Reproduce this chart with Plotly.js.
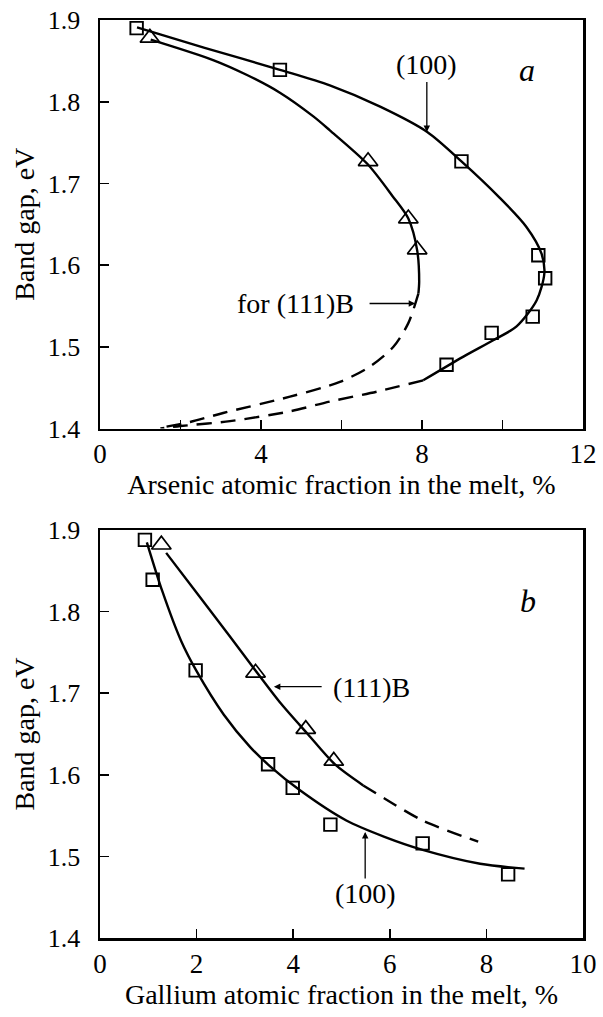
<!DOCTYPE html>
<html>
<head>
<meta charset="utf-8">
<script src="https://cdn.plot.ly/plotly-3.0.1.min.js"></script>
<style>
html,body{margin:0;padding:0;background:#fff;}
#chart{width:603px;height:1017px;}
</style>
</head>
<body>
<div id="chart"></div>
<script>
// ---------- Panel a: Arsenic ----------
var aSqX = [0.91, 4.47, 8.98, 10.89, 11.06, 10.75, 9.73, 8.61];
var aSqY = [1.890, 1.839, 1.727, 1.612, 1.584, 1.537, 1.517, 1.478];
var aTriX = [1.24, 6.66, 7.66, 7.88];
var aTriY = [1.878, 1.727, 1.657, 1.619];

var a100SolidX = [0.92, 2.6, 4.47, 5.71, 6.96, 8.13, 8.98, 9.92, 10.59, 10.97, 11.04, 10.85, 10.35, 9.77, 9.03, 8.03];
var a100SolidY = [1.891, 1.866, 1.839, 1.820, 1.794, 1.763, 1.727, 1.683, 1.647, 1.614, 1.590, 1.557, 1.525, 1.508, 1.488, 1.459];
var a100DashX = [8.03, 6.87, 5.71, 4.72, 3.23, 2.00, 1.50];
var a100DashY = [1.459, 1.445, 1.433, 1.421, 1.409, 1.403, 1.400];

var a111SolidX = [1.26, 2.81, 3.64, 4.47, 5.30, 5.71, 6.64, 7.26, 7.66, 7.88, 7.93, 7.91];
var a111SolidY = [1.876, 1.851, 1.833, 1.811, 1.782, 1.765, 1.724, 1.685, 1.657, 1.618, 1.580, 1.565];
var a111DashX = [7.91, 7.66, 7.29, 6.71, 5.96, 4.72, 3.06, 2.24, 1.50];
var a111DashY = [1.565, 1.529, 1.500, 1.476, 1.457, 1.439, 1.419, 1.408, 1.401];

// ---------- Panel b: Gallium ----------
var bSqX = [0.93, 1.09, 1.98, 3.48, 3.99, 4.77, 6.68, 8.45];
var bSqY = [1.888, 1.839, 1.728, 1.613, 1.584, 1.539, 1.516, 1.478];
var bTriX = [1.27, 3.22, 4.26, 4.84];
var bTriY = [1.882, 1.725, 1.656, 1.617];

var b100X = [0.97, 1.29, 1.68, 2.00, 2.56, 3.11, 3.51, 4.14, 5.10, 5.89, 6.68, 7.87, 8.79];
var b100Y = [1.885, 1.825, 1.764, 1.727, 1.674, 1.634, 1.611, 1.581, 1.544, 1.524, 1.508, 1.491, 1.485];
var b111SolidX = [1.37, 2.08, 2.71, 3.23, 3.75, 4.30, 4.86, 5.45];
var b111SolidY = [1.872, 1.817, 1.768, 1.727, 1.687, 1.650, 1.613, 1.587];
var b111DashX = [5.45, 5.89, 6.68, 7.83];
var b111DashY = [1.587, 1.571, 1.544, 1.518];

// ---------- Axes ----------
var yTicks = [1.4, 1.5, 1.6, 1.7, 1.8, 1.9];
var yTickText = ['1.4', '1.5', '1.6', '1.7', '1.8', '1.9'];
var xTicksA = [0, 2, 4, 6, 8, 10, 12];
var xTickTextA = ['0', '', '4', '', '8', '', '12'];
var xTicksB = [0, 2, 4, 6, 8, 10];
var xTickTextB = ['0', '2', '4', '6', '8', '10'];

var yTitle = 'Band gap, eV';
var xTitleA = 'Arsenic atomic fraction in the melt, %';
var xTitleB = 'Gallium atomic fraction in the melt, %';

var FONT = 'Liberation Serif';
var INK = '#000';

function solid(x, y, xa, ya) {
  return {x: x, y: y, xaxis: xa, yaxis: ya, mode: 'lines', type: 'scatter',
    line: {color: INK, width: 2.4, shape: 'spline', smoothing: 0.8}, hoverinfo: 'skip'};
}
function dashed(x, y, xa, ya) {
  return {x: x, y: y, xaxis: xa, yaxis: ya, mode: 'lines', type: 'scatter',
    line: {color: INK, width: 2.4, shape: 'spline', smoothing: 0.8, dash: '15px,9px'}, hoverinfo: 'skip'};
}
function squares(x, y, xa, ya) {
  return {x: x, y: y, xaxis: xa, yaxis: ya, mode: 'markers', type: 'scatter', cliponaxis: false,
    marker: {symbol: 'square-open', size: 12.5, color: INK, line: {width: 1.9, color: INK}}};
}
function triangles(x, y, xa, ya) {
  return {x: x, y: y, xaxis: xa, yaxis: ya, mode: 'markers', type: 'scatter', cliponaxis: false,
    marker: {symbol: 'triangle-up-open', size: 17, color: INK, line: {width: 1.7, color: INK}}};
}

var data = [
  solid(a100SolidX, a100SolidY, 'x', 'y'),
  dashed(a100DashX, a100DashY, 'x', 'y'),
  solid(a111SolidX, a111SolidY, 'x', 'y'),
  dashed(a111DashX, a111DashY, 'x', 'y'),
  squares(aSqX, aSqY, 'x', 'y'),
  triangles(aTriX, aTriY, 'x', 'y'),
  solid(b100X, b100Y, 'x2', 'y2'),
  solid(b111SolidX, b111SolidY, 'x2', 'y2'),
  dashed(b111DashX, b111DashY, 'x2', 'y2'),
  squares(bSqX, bSqY, 'x2', 'y2'),
  triangles(bTriX, bTriY, 'x2', 'y2')
];

function xAxis(range, vals, text, title, anchor) {
  return {
    domain: [0, 1], anchor: anchor, range: range, tickmode: 'array', tickvals: vals, ticktext: text,
    ticks: 'inside', ticklen: 9, tickwidth: 1.6, tickcolor: INK,
    showline: true, mirror: true, linecolor: INK, linewidth: 2.5,
    showgrid: false, zeroline: false, ticklabelstandoff: 0,
    tickfont: {family: FONT, size: 27, color: INK},
    title: {text: title, font: {family: FONT, size: 28, color: INK}, standoff: 0}
  };
}
function yAxis(domain, anchor) {
  return {
    domain: domain, anchor: anchor, range: [1.4, 1.9], tickmode: 'array', tickvals: yTicks, ticktext: yTickText,
    ticks: 'inside', ticklen: 9, tickwidth: 1.6, tickcolor: INK,
    showline: true, mirror: true, linecolor: INK, linewidth: 2.5,
    showgrid: false, zeroline: false, ticklabelstandoff: 12,
    tickfont: {family: FONT, size: 26, color: INK},
    title: {text: yTitle, font: {family: FONT, size: 28, color: INK}, standoff: 5}
  };
}

var annFont = {family: FONT, size: 28, color: INK};
var annotations = [
  // panel a
  {xref: 'x', yref: 'y', x: 8.12, y: 1.845, text: '(100)', showarrow: false, font: annFont},
  {xref: 'x', yref: 'y', axref: 'x', ayref: 'y', x: 8.12, y: 1.763, ax: 8.12, ay: 1.826, text: '',
    showarrow: true, arrowhead: 2, arrowsize: 1, arrowwidth: 1.3, arrowcolor: INK, standoff: 0},
  {xref: 'x', yref: 'y', x: 10.61, y: 1.839, text: '<i>a</i>', showarrow: false,
    font: {family: FONT, size: 32, color: INK}},
  {xref: 'x', yref: 'y', x: 6.36, y: 1.553, xanchor: 'right', text: 'for (111)B', showarrow: false, font: annFont},
  {xref: 'x', yref: 'y', axref: 'x', ayref: 'y', x: 7.83, y: 1.553, ax: 6.66, ay: 1.553, text: '',
    showarrow: true, arrowhead: 2, arrowsize: 1, arrowwidth: 1.3, arrowcolor: INK, standoff: 0},
  // panel b
  {xref: 'x2', yref: 'y2', x: 4.78, y: 1.707, xanchor: 'left', text: '(111)B', showarrow: false, font: annFont},
  {xref: 'x2', yref: 'y2', axref: 'x2', ayref: 'y2', x: 3.60, y: 1.708, ax: 4.62, ay: 1.708, text: '',
    showarrow: true, arrowhead: 2, arrowsize: 1, arrowwidth: 1.3, arrowcolor: INK, standoff: 0},
  {xref: 'x2', yref: 'y2', x: 5.49, y: 1.454, text: '(100)', showarrow: false, font: annFont},
  {xref: 'x2', yref: 'y2', axref: 'x2', ayref: 'y2', x: 5.49, y: 1.530, ax: 5.49, ay: 1.471, text: '',
    showarrow: true, arrowhead: 2, arrowsize: 1, arrowwidth: 1.3, arrowcolor: INK, standoff: 0},
  {xref: 'x2', yref: 'y2', x: 8.86, y: 1.813, text: '<i>b</i>', showarrow: false,
    font: {family: FONT, size: 32, color: INK}}
];

var layout = {
  width: 603, height: 1017,
  margin: {l: 100, r: 20, t: 20, b: 79, pad: 0},
  paper_bgcolor: '#fff', plot_bgcolor: '#fff',
  showlegend: false,
  font: {family: FONT, color: INK},
  xaxis: xAxis([0, 12], xTicksA, xTickTextA, xTitleA, 'y'),
  yaxis: yAxis([0.555, 1], 'x'),
  xaxis2: xAxis([0, 10], xTicksB, xTickTextB, xTitleB, 'y2'),
  yaxis2: yAxis([0, 0.4444], 'x2'),
  annotations: annotations
};

Plotly.newPlot('chart', data, layout, {staticPlot: true, displayModeBar: false});
</script>
</body>
</html>
